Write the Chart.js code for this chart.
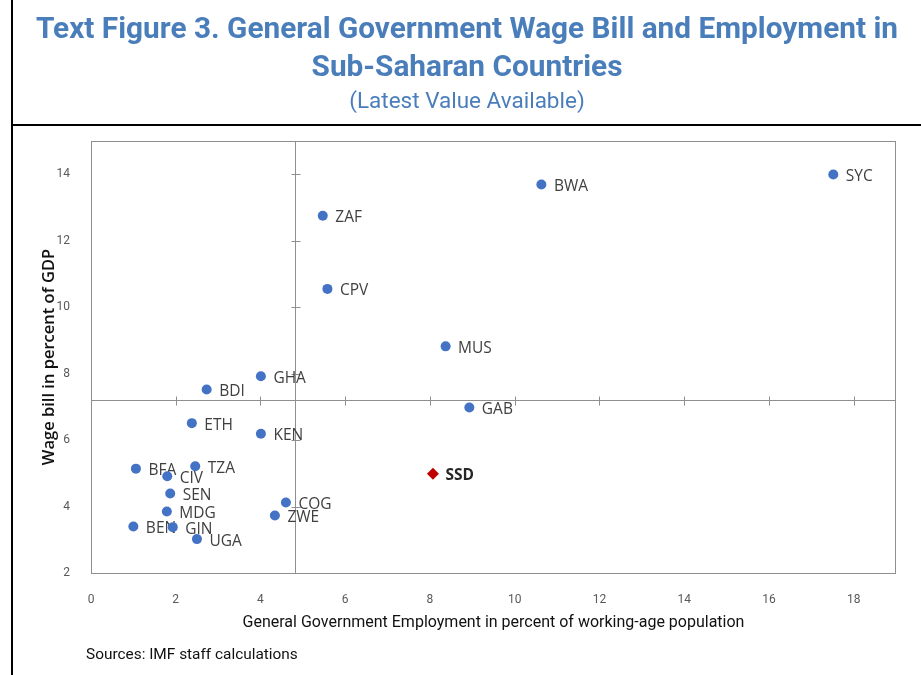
<!DOCTYPE html>
<html>
<head>
<meta charset="utf-8">
<title>Wage Bill and Employment</title>
<script src="https://cdn.jsdelivr.net/npm/chart.js@4.4.1/dist/chart.umd.min.js"></script>
<style>
  html, body { margin: 0; padding: 0; background: #fff; }
  body { width: 921px; height: 675px; position: relative; overflow: hidden; font-family: Roboto, "Open Sans", sans-serif; }
  #chartBox { position: absolute; left: 0; top: 0; width: 921px; height: 675px; }
  .rule { position: absolute; background: #000; }
  #ruleLeft { left: 11px; top: 0; width: 2px; height: 675px; }
  #ruleTop { left: 11px; top: 124px; width: 910px; height: 2px; }
  #head { position: absolute; left: 13px; right: 0; top: 0; text-align: center; color: #4a7ebb; }
  #head .main { font-weight: 700; font-size: 29.8px; line-height: 38px; margin-top: 9px; }
  #head .sub { font-size: 22.5px; line-height: 26px; margin-top: 2px; }
  #source { position: absolute; left: 86px; top: 645px; font-size: 15.4px; color: #111; }
</style>
</head>
<body>
<div id="chartBox"><canvas id="scatterChart" width="921" height="675"></canvas></div>
<div class="rule" id="ruleLeft"></div>
<div class="rule" id="ruleTop"></div>
<div id="head">
  <div class="main">Text Figure 3. General Government Wage Bill and Employment in<br>Sub-Saharan Countries</div>
  <div class="sub">(Latest Value Available)</div>
</div>
<div id="source">Sources: IMF staff calculations</div>
<script>
// country codes with employment (% of working-age pop.) and wage bill (% of GDP)
const countries = ["SYC", "BWA", "ZAF", "CPV", "MUS", "GHA", "BDI", "GAB", "ETH", "KEN",
  "BFA", "TZA", "CIV", "SEN", "MDG", "BEN", "GIN", "UGA", "COG", "ZWE"];
const employment = [17.52, 10.63, 5.47, 5.58, 8.37, 4.01, 2.73, 8.93, 2.38, 4.01,
  1.06, 2.46, 1.80, 1.87, 1.79, 1.00, 1.93, 2.50, 4.60, 4.34];
const wageBill = [13.99, 13.69, 12.75, 10.55, 8.82, 7.92, 7.52, 6.98, 6.51, 6.19,
  5.14, 5.21, 4.91, 4.39, 3.85, 3.40, 3.38, 3.02, 4.12, 3.73];

// South Sudan is shown separately
const ssdCountry = ["SSD"];
const ssdEmployment = [8.07];
const ssdWageBill = [4.99];

// averages where the two axes cross
const avgEmployment = 4.82;
const avgWageBill = 7.22;

const xTicks = [0, 2, 4, 6, 8, 10, 12, 14, 16, 18];
const yTicks = [2, 4, 6, 8, 10, 12, 14];

const toPoints = (xs, ys) => xs.map((x, i) => ({ x: x, y: ys[i] }));

// plot frame plus the crossing axes with their tick marks
const crossAxes = {
  id: "crossAxes",
  beforeDatasetsDraw(chart) {
    const { ctx, chartArea: a, scales: { x, y } } = chart;
    ctx.save();
    ctx.strokeStyle = "#8f8f8f";
    ctx.lineWidth = 1;
    ctx.strokeRect(a.left + 0.5, a.top + 0.5, a.right - a.left - 1, a.bottom - a.top);

    const cx = Math.round(x.getPixelForValue(avgEmployment)) + 0.5;
    const cy = Math.round(y.getPixelForValue(avgWageBill)) + 0.5;
    ctx.beginPath();
    ctx.moveTo(a.left, cy); ctx.lineTo(a.right, cy);
    ctx.moveTo(cx, a.top); ctx.lineTo(cx, a.bottom);
    xTicks.slice(1).forEach(v => {
      const px = Math.round(x.getPixelForValue(v)) + 0.5;
      ctx.moveTo(px, cy - 4); ctx.lineTo(px, cy + 5);
    });
    yTicks.slice(1).forEach(v => {
      const py = Math.round(y.getPixelForValue(v)) + 0.5;
      ctx.moveTo(cx - 4, py); ctx.lineTo(cx + 5, py);
    });
    ctx.stroke();
    ctx.restore();
  }
};

// country code to the right of each marker, drawn under the markers
const pointLabels = {
  id: "pointLabels",
  beforeDatasetsDraw(chart) {
    const ctx = chart.ctx;
    ctx.save();
    ctx.textBaseline = "middle";
    chart.data.datasets.forEach((ds, i) => {
      const meta = chart.getDatasetMeta(i);
      ctx.font = ds.labelFont;
      ctx.fillStyle = ds.labelColor;
      meta.data.forEach((pt, j) => {
        ctx.fillText(ds.codes[j], pt.x + 12.5, pt.y + 2);
      });
    });
    ctx.restore();
  }
};

const ctx = document.getElementById("scatterChart").getContext("2d");
new Chart(ctx, {
  type: "scatter",
  data: {
    datasets: [
      {
        data: toPoints(employment, wageBill),
        codes: countries,
        labelFont: "15.5px 'Open Sans'",
        labelColor: "#404040",
        pointRadius: 5,
        pointHoverRadius: 5,
        backgroundColor: "#4472c4",
        borderColor: "#4472c4",
        borderWidth: 0
      },
      {
        data: toPoints(ssdEmployment, ssdWageBill),
        codes: ssdCountry,
        labelFont: "bold 15.5px 'Open Sans'",
        labelColor: "#262626",
        pointStyle: "rectRot",
        pointRadius: 6,
        pointHoverRadius: 6,
        backgroundColor: "#c00000",
        borderColor: "#c00000",
        borderWidth: 0
      }
    ]
  },
  options: {
    responsive: false,
    animation: false,
    events: [],
    layout: { padding: { top: 141, right: 25, bottom: 42, left: 0 } },
    plugins: {
      legend: { display: false },
      tooltip: { enabled: false }
    },
    scales: {
      x: {
        type: "linear",
        min: 0,
        max: 19,
        afterBuildTicks: s => { s.ticks = xTicks.map(v => ({ value: v })); },
        afterFit: s => { s.height = 60; },
        grid: { display: false },
        border: { display: false },
        ticks: { padding: 12, color: "#595959", font: { family: "Roboto", size: 12 } },
        title: {
          display: true,
          text: "General Government Employment in percent of working-age population",
          color: "#111",
          font: { family: "Roboto", size: 16 },
          padding: { top: 0, bottom: 0 }
        }
      },
      y: {
        type: "linear",
        min: 2,
        max: 15,
        afterBuildTicks: s => { s.ticks = yTicks.map(v => ({ value: v })); },
        afterFit: s => { s.width = 91; },
        grid: { display: false },
        border: { display: false },
        ticks: { padding: 13, color: "#595959", font: { family: "Roboto", size: 12 } },
        title: {
          display: true,
          text: "Wage bill in percent of GDP",
          color: "#111",
          font: { family: "Open Sans", size: 16.5, weight: "600" },
          padding: { top: 39, bottom: 0 }
        }
      }
    }
  },
  plugins: [crossAxes, pointLabels]
});
</script>
</body>
</html>
